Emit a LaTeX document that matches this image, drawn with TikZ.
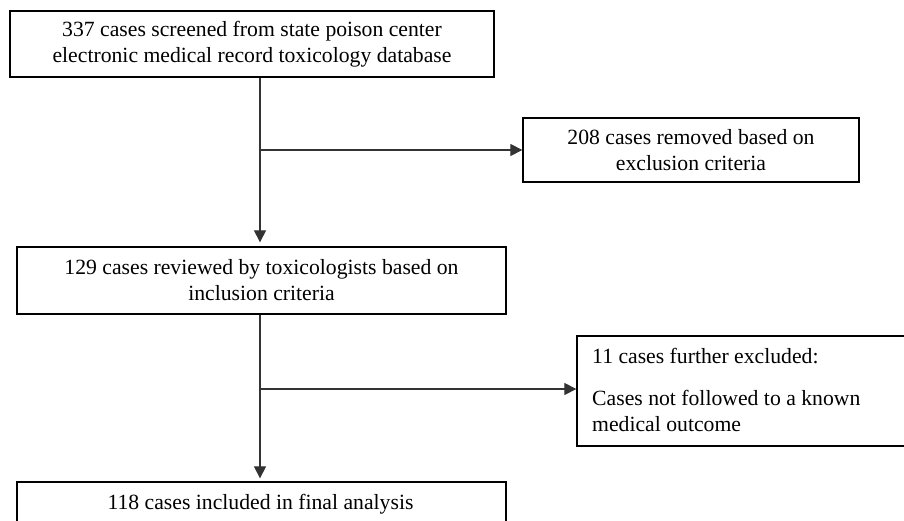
\documentclass[tikz,border=0pt]{standalone}
\usepackage{fontspec}
\setmainfont{Liberation Serif}
\usetikzlibrary{arrows.meta}
\begin{document}
\begin{tikzpicture}[x=1pt,y=-1pt,
  box/.style={draw=black, line width=1.3pt, inner sep=0pt, rectangle},
  conn/.style={draw=black!80, line width=1.1pt, -{Triangle[length=12pt,width=12pt]}},
  txt/.style={font=\fontsize{21.7}{26}\selectfont}]
\useasboundingbox (0,0) rectangle (904,521);
\node[box, txt, minimum width=484pt, minimum height=66pt, align=center] (b1) at (252,44)
  {337 cases screened from state poison center\\electronic medical record toxicology database};
\node[box, txt, minimum width=336pt, minimum height=64pt, align=center] (b2) at (691,150)
  {208 cases removed based on\\exclusion criteria};
\node[box, txt, minimum width=489pt, minimum height=67pt, align=center] (b3) at (261.5,280.5)
  {129 cases reviewed by toxicologists based on\\inclusion criteria};
\node[box, minimum width=360pt, minimum height=110pt] (b4) at (757,391) {};
\node[box, minimum width=489pt, minimum height=67pt] (b5) at (261.5,515.5) {};
\node[txt, anchor=base] (t5) at (260.5,509) {118 cases included in final analysis};
\node[txt, anchor=north west, align=left, inner sep=0pt] (t4) at (592,348)
  {11 cases further excluded:\\[16pt]Cases not followed to a known\\medical outcome};
\coordinate (ax) at (260,0);
\coordinate (j1) at (260,150);
\coordinate (j2) at (260,389);
\draw[conn, shorten >=4pt] (b1.south -| ax) -- (b3.north -| ax);
\draw[conn] (j1) -- (b2.west);
\draw[conn, shorten >=3pt] (b3.south -| ax) -- (b5.north -| ax);
\draw[conn] (j2) -- (b4.west |- j2);
\end{tikzpicture}
\end{document}
